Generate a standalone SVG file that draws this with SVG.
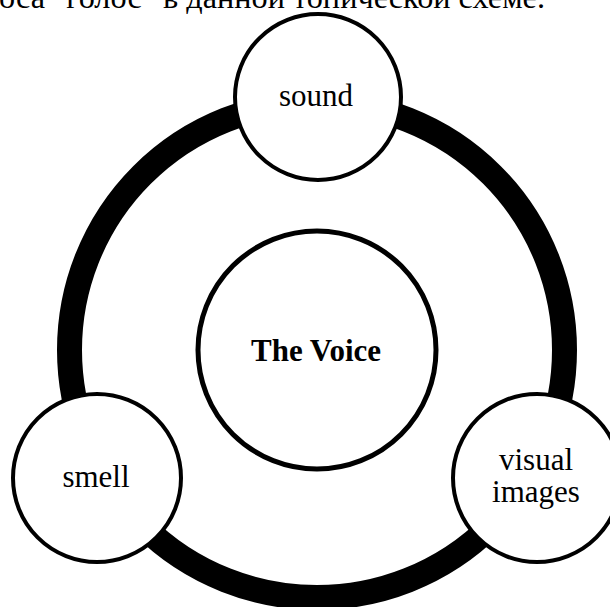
<svg xmlns="http://www.w3.org/2000/svg" width="610" height="607" viewBox="0 0 610 607">
  <style>
    .t { font-family: "Liberation Serif", "Times New Roman", serif; font-size: 31px; fill: #000; }
    .node { fill: #fff; stroke: #000; stroke-width: 4; }
  </style>
  <rect width="610" height="607" fill="#fff"/>
  <text class="t" x="-1" y="8" textLength="546" lengthAdjust="spacingAndGlyphs">оса "голос" в данной топической схеме.</text>
  <g id="connectors">
    <circle cx="317" cy="350" r="247.5" fill="none" stroke="#000" stroke-width="25"/>
  </g>
  <g id="voice">
    <circle cx="317" cy="350" r="119" fill="#fff" stroke="#000" stroke-width="5"/>
    <text class="t" x="316" y="361" text-anchor="middle" font-weight="bold">The Voice</text>
  </g>
  <g id="sound">
    <circle class="node" cx="318" cy="97" r="83"/>
    <text class="t" x="316" y="106" text-anchor="middle">sound</text>
  </g>
  <g id="smell">
    <circle class="node" cx="97" cy="478" r="84"/>
    <text class="t" x="96" y="487" text-anchor="middle">smell</text>
  </g>
  <g id="visual">
    <circle class="node" cx="537" cy="478" r="84"/>
    <text class="t" x="536" y="470" text-anchor="middle">visual</text>
    <text class="t" x="536" y="502" text-anchor="middle">images</text>
  </g>
</svg>
